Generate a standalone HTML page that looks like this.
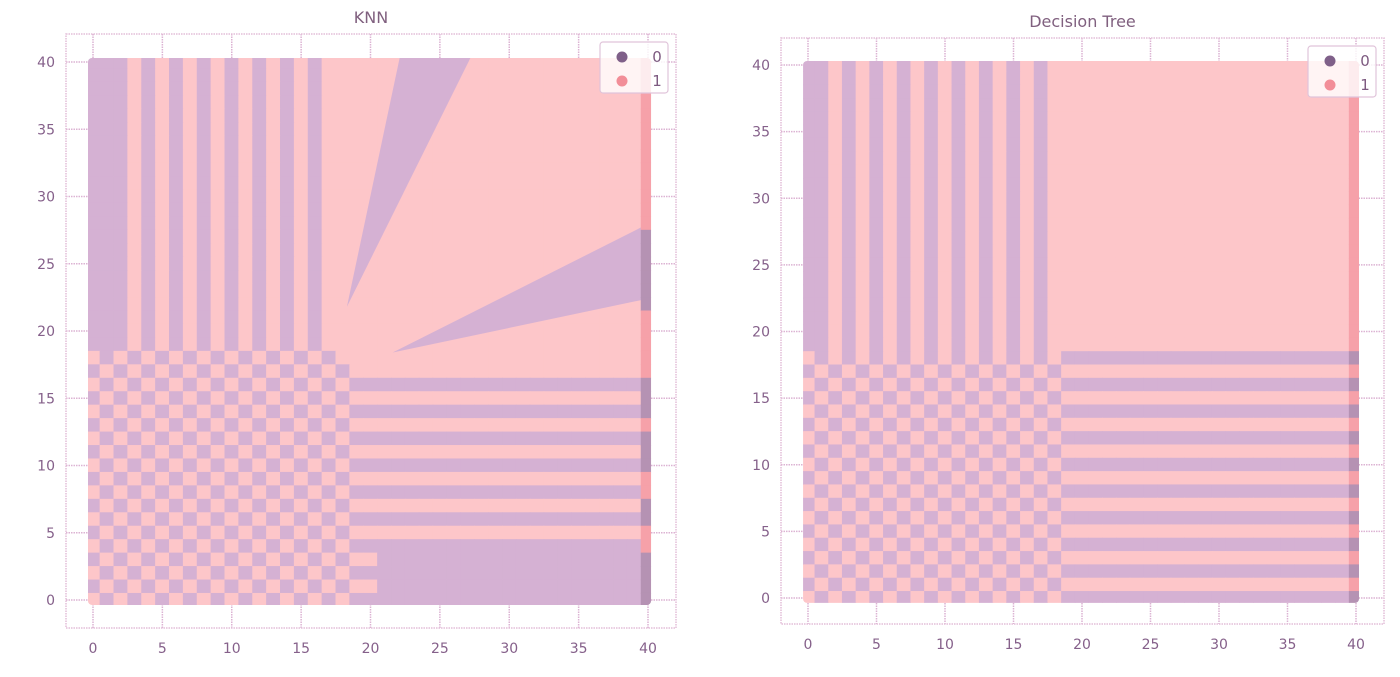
<!DOCTYPE html>
<html><head><meta charset="utf-8">
<style>
html,body{margin:0;padding:0;background:#fff;}
svg{display:block;font-family:"DejaVu Sans","Liberation Sans",sans-serif;}
</style></head>
<body>
<svg id="chart" width="1400" height="677" viewBox="0 0 1400 677" xmlns="http://www.w3.org/2000/svg"></svg>
<script>
// ---------- data ----------
const xTicks = [0,5,10,15,20,25,30,35,40];
const yTicks = [0,5,10,15,20,25,30,35,40];
const legendLabels = ['0','1'];
// grid segments (class 0 = purple, 1 = pink, 2 = class-0 point on edge, 3 = class-1 point on edge)
const P21 = '000000000000000000000', K21 = '111111111111111111111';
const P19 = '0000000000000000000', K19 = '1111111111111111111';
const CHK_E = '1010101010101010101', CHK_O = '0101010101010101010';
const DT_STRIPE = '0010101010101010101';
const KNN_STRIPE = '0001010101010101011';
// Decision tree rows, y = 40 down to 0
const dtRows = [
 DT_STRIPE+K21+'3',DT_STRIPE+K21+'3',DT_STRIPE+K21+'3',DT_STRIPE+K21+'3',DT_STRIPE+K21+'3',
 DT_STRIPE+K21+'3',DT_STRIPE+K21+'3',DT_STRIPE+K21+'3',DT_STRIPE+K21+'3',DT_STRIPE+K21+'3',
 DT_STRIPE+K21+'3',DT_STRIPE+K21+'3',DT_STRIPE+K21+'3',DT_STRIPE+K21+'3',DT_STRIPE+K21+'3',
 DT_STRIPE+K21+'3',DT_STRIPE+K21+'3',DT_STRIPE+K21+'3',DT_STRIPE+K21+'3',DT_STRIPE+K21+'3',
 DT_STRIPE+K21+'3',DT_STRIPE+K21+'3',
 CHK_E+P21+'2', // y18
 CHK_O+K21+'3', CHK_E+P21+'2', CHK_O+K21+'3', CHK_E+P21+'2', CHK_O+K21+'3', CHK_E+P21+'2',
 CHK_O+K21+'3', CHK_E+P21+'2', CHK_O+K21+'3', CHK_E+P21+'2', CHK_O+K21+'3', CHK_E+P21+'2',
 CHK_O+K21+'3', CHK_E+P21+'2', CHK_O+K21+'3', CHK_E+P21+'2', CHK_O+K21+'3', CHK_E+P21+'2' // y0
];
// KNN rows, y = 40 down to 0
const knnRows = [
 KNN_STRIPE+K21+'3',KNN_STRIPE+K21+'3',KNN_STRIPE+K21+'3',KNN_STRIPE+K21+'3',KNN_STRIPE+K21+'3',
 KNN_STRIPE+K21+'3',KNN_STRIPE+K21+'3',KNN_STRIPE+K21+'3',KNN_STRIPE+K21+'3',KNN_STRIPE+K21+'3',
 KNN_STRIPE+K21+'3',KNN_STRIPE+K21+'3',KNN_STRIPE+K21+'3', // y40..28
 KNN_STRIPE+K21+'2',KNN_STRIPE+K21+'2',KNN_STRIPE+K21+'2',KNN_STRIPE+K21+'2',KNN_STRIPE+K21+'2',KNN_STRIPE+K21+'2', // y27..22
 KNN_STRIPE+K21+'3',KNN_STRIPE+K21+'3',KNN_STRIPE+K21+'3', // y21..19
 CHK_E+'11'+K19+'3', // y18
 CHK_O+'11'+K19+'3', // y17
 CHK_E+'00'+P19+'2', CHK_O+'11'+K19+'2', CHK_E+'00'+P19+'2', CHK_O+'11'+K19+'3', // 16..13
 CHK_E+'00'+P19+'2', CHK_O+'11'+K19+'2', CHK_E+'00'+P19+'2', CHK_O+'11'+K19+'3', // 12..9
 CHK_E+'00'+P19+'3', CHK_O+'11'+K19+'2', CHK_E+'00'+P19+'2', CHK_O+'11'+K19+'3', // 8..5
 CHK_E+'00'+P19+'3', CHK_O+'11'+P19+'2', CHK_E+'00'+P19+'2', CHK_O+'11'+P19+'2', CHK_E+'00'+P19+'2' // 4..0
];
// KNN purple wedges (data coords)
const wedgeUpperX = [18.3, 22.1, 27.2];
const wedgeUpperY = [21.8, 40.3, 40.3];
const wedgeRightX = [21.6, 39.5, 39.5];
const wedgeRightY = [18.4, 22.3, 27.7];

// ---------- rendering ----------
const NS = 'http://www.w3.org/2000/svg';
const svg = document.getElementById('chart');
const COLORS = {'0':'#d5b1d3','1':'#fdc6c9','2':'#b592b3','3':'#f6a1a9'};
function mk(tag, attrs, parent){const e=document.createElementNS(NS,tag);for(const k in attrs)e.setAttribute(k,attrs[k]);(parent||svg).appendChild(e);return e;}

function drawChart(cfg){
  const g = mk('g',{});
  
  
  const sx = v => cfg.x0 + (v)*(cfg.x40-cfg.x0)/40;
  const sy = v => cfg.y0 + (v)*(cfg.y40-cfg.y0)/40;
  // grid
  const grid = mk('g',{},g);
  
  
  xTicks.forEach(t=>{const l=mk('line',{x1:sx(t),x2:sx(t),y1:cfg.top,y2:cfg.bottom,stroke:'#dcb3d3','stroke-width':1.5,'stroke-dasharray':'1.5,1'},grid);
     });
  yTicks.forEach(t=>{const l=mk('line',{x1:cfg.left,x2:cfg.right,y1:sy(t),y2:sy(t),stroke:'#dcb3d3','stroke-width':1.5,'stroke-dasharray':'1.5,1'},grid);
     });
  // clip for decision surface
  const clipId = cfg.id+'-clip';
  const cp = mk('clipPath',{id:clipId},g);
  mk('rect',{x:sx(-0.36),y:sy(40.3),width:sx(40.22)-sx(-0.36),height:sy(-0.37)-sy(40.3),rx:4},cp);
  const surf = mk('g',{'clip-path':'url(#'+clipId+')'},g);
  
  
  const rows = cfg.rows;
  const drawCells = (colFilter)=>{
    rows.forEach((row,ri)=>{
      const yv = 40 - ri;
      const chars = row.replace(/\s/g,'');
      for(let c=0;c<chars.length;c++){
        if(!colFilter(c)) continue;
        const x1=sx(c-0.5), x2=sx(c+0.5), y1=sy(yv+0.5), y2=sy(yv-0.5);
        const r = mk('rect',{x:x1-0.3,y:y1-0.3,width:x2-x1+0.6,height:y2-y1+0.6,fill:COLORS[chars[c]]},surf);
        
        
      }
    });
  };
  drawCells(c=>c<40);
  if(cfg.wedges){
    cfg.wedges.forEach(w=>{
      const pts = w.xs.map((xv,i)=>sx(xv)+','+sy(w.ys[i])).join(' ');
      const p = mk('polygon',{points:pts,fill:COLORS['0']},surf);
      
      
    });
  }
  drawCells(c=>c===40);
  // frame
  const fr = mk('rect',{x:cfg.left,y:cfg.top,width:cfg.right-cfg.left,height:cfg.bottom-cfg.top,fill:'none',stroke:'#e3bdd8','stroke-width':1.5,'stroke-dasharray':'1.5,1'},g);
  
  
  // ticks
  xTicks.forEach(t=>{const tx=mk('text',{x:sx(t),y:cfg.bottom+25,'text-anchor':'middle','font-size':14,fill:'#85608a'},g);tx.textContent=t;
     });
  yTicks.forEach(t=>{const tx=mk('text',{x:cfg.left-11,y:sy(t)+5,'text-anchor':'end','font-size':14,fill:'#85608a'},g);tx.textContent=t;
     });
  // title
  const ti = mk('text',{x:(cfg.left+cfg.right)/2,y:cfg.top-11,'text-anchor':'middle','font-size':16,fill:'#80607f'},g);
  ti.textContent = cfg.title;
  
  
  // legend
  const lg = mk('g',{},g);
  
  
  const lx = cfg.right-76, ly = cfg.top+8;
  mk('rect',{x:lx,y:ly,width:68,height:51,rx:3,fill:'#fff','fill-opacity':0.8,stroke:'#e0c4da','stroke-width':1.2},lg);
  const lcol = ['#7f6089','#f28e98'];
  legendLabels.forEach((lab,i)=>{
    const ent = mk('g',{},lg);
    
    
    mk('circle',{cx:lx+22,cy:ly+15+i*24,r:5.5,fill:lcol[i]},ent);
    const t = mk('text',{x:lx+57,y:ly+20+i*24,'text-anchor':'middle','font-size':15,fill:'#7d5a80'},ent);
    t.textContent = lab;
  });
}

drawChart({id:'knn',name:'knn-chart',title:'KNN',left:66,right:676,top:34,bottom:628,
  x0:93,x40:648,y0:600,y40:62,rows:knnRows,
  wedges:[{xs:wedgeUpperX,ys:wedgeUpperY},{xs:wedgeRightX,ys:wedgeRightY}]});
drawChart({id:'dtree',name:'decision-tree-chart',title:'Decision Tree',left:781,right:1384,top:38,bottom:624,
  x0:808,x40:1356,y0:598,y40:65,rows:dtRows});
</script>
</body></html>
